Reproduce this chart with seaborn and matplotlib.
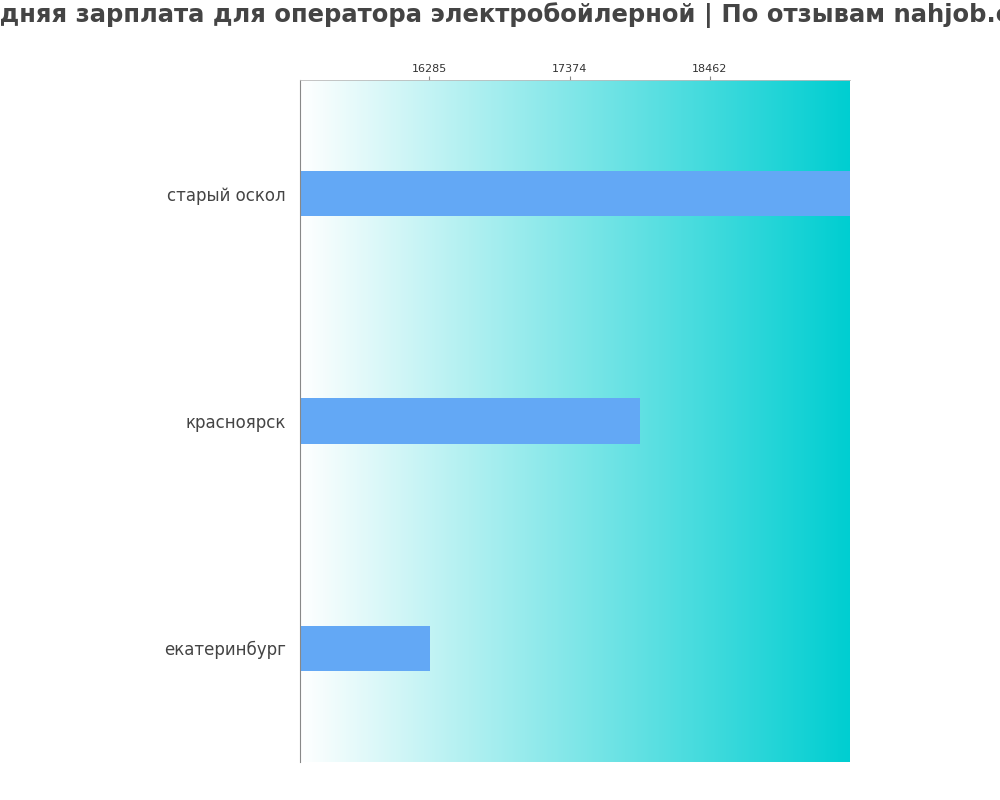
import matplotlib
matplotlib.use("Agg")
import matplotlib.pyplot as plt
import numpy as np
import pandas as pd
import seaborn as sns
from matplotlib.colors import LinearSegmentedColormap

CITIES = ["старый оскол", "красноярск", "екатеринбург"]
SALARIES = [19547, 17920, 16293]
TICKS = [16285, 17374, 18462]
X_MIN, X_MAX = 15285, 19547
TITLE = "Средняя зарплата для оператора электробойлерной | По отзывам nahjob.com"

sns.set_theme(style="white")
plt.rcParams["font.family"] = ["DejaVu Sans"]

df = pd.DataFrame({"city": CITIES, "salary": SALARIES})

fig = plt.figure(figsize=(10, 8), dpi=100)
ax = fig.add_axes([0.3, 0.0475, 0.55, 0.8525])

cmap = LinearSegmentedColormap.from_list("bg", ["#FFFFFF", "#00CED1"])
grad = np.linspace(0, 1, 256).reshape(1, -1)
ax.imshow(grad, cmap=cmap, aspect="auto", extent=[X_MIN, X_MAX, 2.5, -0.5], zorder=0)

sns.barplot(data=df, x="salary", y="city", orient="h", color="#63A8F5",
            width=0.2, saturation=1, linewidth=0, ax=ax, zorder=2)

ax.set_xlim(X_MIN, X_MAX)
ax.set_ylim(2.5, -0.5)
ax.xaxis.tick_top()
ax.set_xticks(TICKS)
ax.set_xticklabels([str(t) for t in TICKS], fontsize=8, color="#333333")
ax.tick_params(axis="x", length=3, width=0.8, pad=1, color="#888888", top=True, bottom=False)
ax.tick_params(axis="y", labelsize=12, colors="#444444", length=0, pad=10)
ax.set_xlabel("")
ax.set_ylabel("")
for side in ["right", "bottom"]:
    ax.spines[side].set_visible(False)
ax.spines["top"].set_color("#BBBBBB")
ax.spines["top"].set_linewidth(0.6)
ax.spines["left"].set_color("#888888")
ax.spines["left"].set_linewidth(0.8)

fig.text(0.5, 0.981, TITLE, ha="center", va="center", fontsize=17.5,
         fontweight="bold", color="#444444")

fig.savefig("out.png", dpi=100)
